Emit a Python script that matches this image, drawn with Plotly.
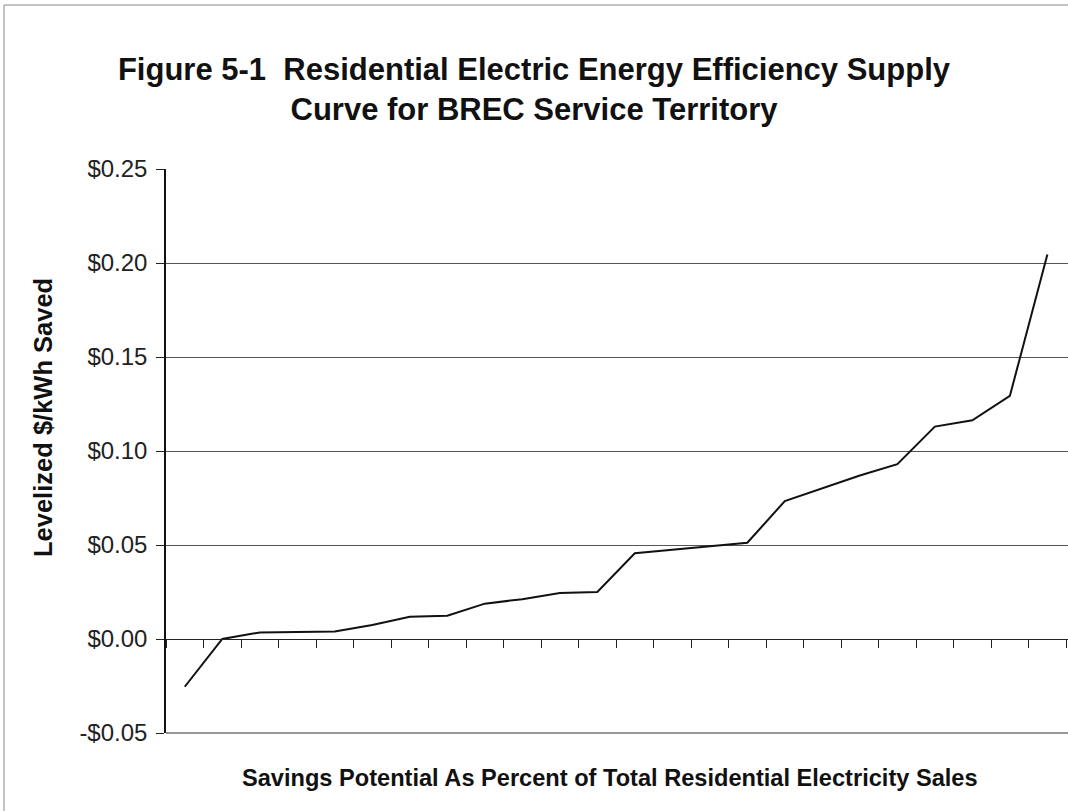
import plotly.graph_objects as go

# Supply curve: levelized cost per measure, ordered from cheapest to most expensive
measures = [str(i) for i in range(1, 25)]
cost_per_kwh = [-0.0254, 0.0, 0.0035, 0.0038, 0.0040, 0.0074, 0.0118, 0.0124,
                0.0188, 0.0212, 0.0245, 0.0250, 0.0456, 0.0475, 0.0494, 0.0512,
                0.0734, 0.0800, 0.0870, 0.0930, 0.1130, 0.1163, 0.1293, 0.2045]

y_tickvals = [-0.05, 0.0, 0.05, 0.10, 0.15, 0.20, 0.25]
y_ticktext = ["-$0.05", "$0.00", "$0.05", "$0.10", "$0.15", "$0.20", "$0.25"]

title_lines = ["Figure 5-1\u00a0\u00a0Residential Electric Energy Efficiency Supply",
               "Curve for BREC Service Territory"]
x_title = "Savings Potential As Percent of Total Residential Electricity Sales"
y_title = "Levelized $/kWh Saved"

W, H = 1068, 811
ML, MR, MT, MB = 166, 0, 169, 78
plot_w = W - ML - MR
plot_h = H - MT - MB
y_min, y_max = y_tickvals[0], y_tickvals[-1]

def px_to_paper_x(px):
    return (px - ML) / plot_w

def px_to_paper_y(py):
    return (H - MB - py) / plot_h

FONT = "Liberation Sans, Arial, sans-serif"

fig = go.Figure()
fig.add_trace(go.Scatter(
    x=measures, y=cost_per_kwh, mode="lines",
    line=dict(color="#111111", width=2),
    showlegend=False, hoverinfo="skip",
))

fig.update_layout(
    width=W, height=H,
    margin=dict(l=ML, r=MR, t=MT, b=MB),
    paper_bgcolor="white", plot_bgcolor="white",
    font=dict(family=FONT, color="#111111"),
    title=dict(
        text="<br>".join(title_lines),
        x=0.5, xref="container", xanchor="center",
        y=1 - 80 / H, yref="container", yanchor="middle",
        font=dict(size=31, family=FONT, weight="bold", color="#111111"),
    ),
    xaxis=dict(
        type="category",
        range=[-0.5, 23.55],
        anchor="free",
        position=(0 - y_min) / (y_max - y_min),
        showline=True, linecolor="#222222", linewidth=1,
        ticks="outside", ticklen=8, tickcolor="#222222", tickwidth=1,
        tickson="boundaries",
        showticklabels=False,
        showgrid=False, zeroline=False,
    ),
    yaxis=dict(
        range=[y_min, y_max],
        tickvals=y_tickvals, ticktext=y_ticktext,
        showline=True, linecolor="#111111", linewidth=1.5,
        ticks="outside", ticklen=8, tickcolor="#222222", tickwidth=1,
        ticklabelstandoff=4,
        tickfont=dict(size=24, family=FONT, color="#222222"),
        showgrid=True, gridcolor="#555555", gridwidth=1,
        zeroline=False,
    ),
    annotations=[
        dict(text=x_title, xref="paper", yref="paper",
             x=px_to_paper_x(610), y=px_to_paper_y(778),
             xanchor="center", yanchor="middle", showarrow=False,
             font=dict(size=23.6, family=FONT, weight="bold", color="#111111")),
        dict(text=y_title, xref="paper", yref="paper",
             x=px_to_paper_x(43), y=px_to_paper_y(418),
             xanchor="center", yanchor="middle", textangle=-90, showarrow=False,
             font=dict(size=25.5, family=FONT, weight="bold", color="#111111")),
    ],
    shapes=[
        # outer chart frame (top and left edges)
        dict(type="line", xref="paper", yref="paper",
             x0=px_to_paper_x(4), x1=px_to_paper_x(W + 2),
             y0=px_to_paper_y(5), y1=px_to_paper_y(5),
             line=dict(color="#888888", width=1)),
        dict(type="line", xref="paper", yref="paper",
             x0=px_to_paper_x(4), x1=px_to_paper_x(4),
             y0=px_to_paper_y(5), y1=px_to_paper_y(H + 2),
             line=dict(color="#888888", width=1)),
        # bottom edge of the plot area
        dict(type="line", xref="paper", yref="paper",
             x0=0, x1=1, y0=0, y1=0,
             line=dict(color="#333333", width=1)),
    ],
)

fig.write_html("out.html")
